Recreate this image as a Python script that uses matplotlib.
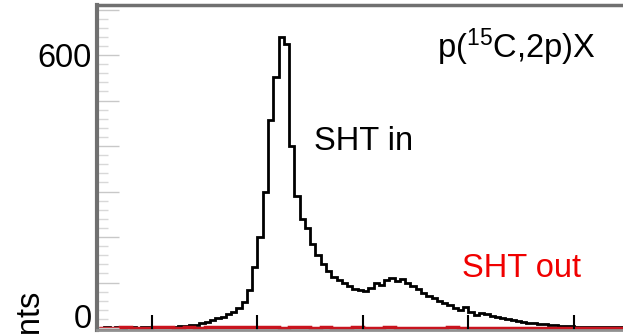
import numpy as np
import matplotlib
matplotlib.use('Agg')
import matplotlib.pyplot as plt
from matplotlib.ticker import MultipleLocator

plt.rcParams['font.family'] = ['Liberation Sans', 'DejaVu Sans']
plt.rcParams['mathtext.fontset'] = 'custom'
plt.rcParams['mathtext.rm'] = 'Liberation Sans'

# histogram "SHT in" (0.5 wide bins from 5 to 56)
bordas_in = np.arange(5.0, 56.01, 0.5)
contagens_in = [1, 2, 1, 2, 1, 2, 2, 1, 2, 2, 3, 2, 3, 2, 3, 4,
                5, 6,
                7, 10, 13, 17,
                21, 25, 30, 35,
                45, 58, 84, 134,
                200, 300, 458, 552,
                640, 625, 400, 290,
                240, 220, 185, 160,
                140, 125, 112, 105,
                99, 92, 86, 84,
                82, 88, 98, 95,
                105, 110, 104, 108,
                99, 92, 85, 78,
                70, 66, 60, 55,
                50, 44, 40, 46,
                36, 29, 33, 30,
                26, 24, 22, 20,
                17, 15, 13, 11,
                10, 9, 8, 6,
                6, 5, 4, 4,
                3, 3, 2, 3, 2, 2, 3, 2, 2, 2, 2, 2]

# histogram "SHT out" (1 wide bins)
bordas_out = np.arange(5.0, 56.01, 1.0)
contagens_out = [1, 1, 2, 1, 1, 2, 2, 1, 2, 1,
                 2, 2, 3, 2, 2, 3, 2, 1, 2, 2,
                 1, 2, 1, 1, 2, 1, 1, 2, 1, 1,
                 1, 1, 1, 2, 1, 1, 1, 1, 1, 1,
                 1, 1, 1, 1, 0, 1, 1, 1, 1, 1,
                 1]

xticks = [10, 20, 30, 40, 50]
yticks = [0, 100, 200, 300, 400, 500, 600, 700]
ylabels = ['0', '', '', '', '', '', '600', '']

fig = plt.figure(figsize=(6.23, 3.34), dpi=100)
ax = fig.add_axes([97 / 623, 4 / 334, 543 / 623, 325 / 334])

ax.stairs(contagens_in, bordas_in, color='black', lw=2.0)
ax.stairs(contagens_out, bordas_out, color='#c8141e', lw=2.5)

ax.set_xlim(4.79, 56.26)
ax.set_ylim(-4.4, 710)

ax.set_xticks(xticks)
ax.set_xticklabels([])
ax.tick_params(axis='x', direction='in', length=11, width=1.5, color='black')

ax.set_yticks(yticks)
ax.set_yticklabels(ylabels, fontsize=23.5)
ax.yaxis.set_minor_locator(MultipleLocator(20))
ax.tick_params(axis='y', which='major', direction='in', length=16, width=1, color='#c8c8c8', pad=4)
ax.tick_params(axis='y', which='minor', direction='in', length=8, width=1, color='#d8d8d8')
ax.get_yticklabels()[0].set_va('baseline')

for lado in ['left']:
    ax.spines[lado].set_linewidth(3)
    ax.spines[lado].set_color('#707070')
ax.spines['top'].set_linewidth(2.5)
ax.spines['top'].set_color('#707070')
ax.spines['bottom'].set_linewidth(2)
ax.spines['bottom'].set_color('#909090')
ax.spines['right'].set_visible(False)

ax.text(516 / 623, 1 - 58 / 334, r'p($\mathregular{^{15}}$C,2p)X', transform=fig.transFigure,
        fontsize=23.5, ha='center', va='baseline')
ax.text(364 / 623, 1 - 150 / 334, 'SHT in', transform=fig.transFigure,
        fontsize=23.5, ha='center', va='baseline')
ax.text(522 / 623, 1 - 277 / 334, 'SHT out', transform=fig.transFigure,
        fontsize=23.5, ha='center', va='baseline', color='#f00000')
fig.text(30 / 623, 1 - 290 / 334, 'Counts', rotation=90, fontsize=23.5,
         ha='center', va='top')

fig.savefig('out.png', dpi=100)
